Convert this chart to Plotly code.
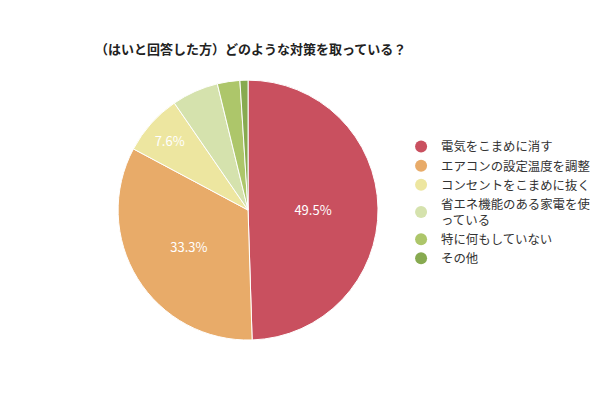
import plotly.graph_objects as go

# 回答データ
labels = ["電気をこまめに消す", "エアコンの設定温度を調整", "コンセントをこまめに抜く",
          "省エネ機能のある家電を使<br>っている", "特に何もしていない", "その他"]
values = [49.5, 33.3, 7.6, 5.8, 2.8, 1.0]
colors = ["#c9505f", "#e8ab69", "#ede6a0", "#d5e2ad", "#adc66a", "#87aa50"]
shown = ["49.5%", "33.3%", "7.6%", "", "", ""]

font = "Noto Sans CJK JP, sans-serif"

fig = go.Figure()
fig.add_trace(go.Pie(
    labels=labels,
    values=values,
    sort=False,
    direction="clockwise",
    rotation=0,
    marker=dict(colors=colors, line=dict(color="white", width=1)),
    text=shown,
    textinfo="text",
    textposition="inside",
    insidetextfont=dict(color="white", size=13, family=font),
    showlegend=False,
    domain=dict(x=[0.186, 0.625], y=[0.135, 0.8125]),
))

# 凡例は丸いマーカーにするためダミーのscatterで
for lab, col in zip(labels, colors):
    fig.add_trace(go.Scatter(
        x=[None], y=[None], mode="markers", name=lab,
        marker=dict(color=col, size=13, symbol="circle"),
    ))

# ページ余白(8px)の分だけ小さくしてスクロールバーを出さない
fig.update_layout(
    width=592, height=384,
    margin=dict(l=0, r=0, t=0, b=0, autoexpand=False),
    paper_bgcolor="white",
    plot_bgcolor="white",
    font=dict(family=font, color="#333333", size=13),
    title=dict(text="<b>（はいと回答した方）どのような対策を取っている？</b>",
               x=0.147, xanchor="left", y=0.891, yanchor="middle",
               font=dict(size=13, color="#222222", family=font)),
    legend=dict(x=0.664, xanchor="left", y=0.677, yanchor="top",
                font=dict(size=12.4, color="#333333", family=font),
                itemsizing="constant", tracegroupgap=0),
    xaxis=dict(visible=False),
    yaxis=dict(visible=False),
)

fig.write_html("out.html")
